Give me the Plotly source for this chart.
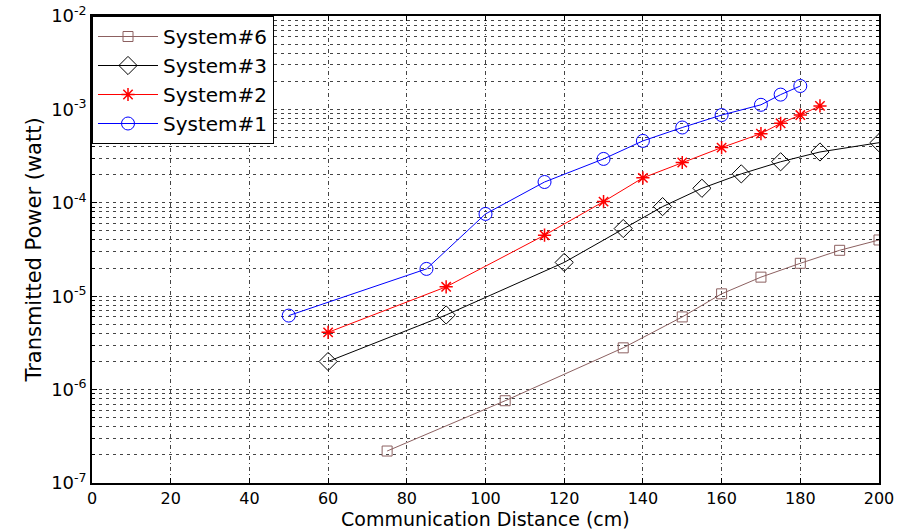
import plotly.graph_objects as go

# Data
s6_x = [75, 105, 135, 150, 160, 170, 180, 190, 200]
s6_y = [2.2e-7, 7.6e-7, 2.8e-6, 6.0e-6, 1.06e-5, 1.6e-5, 2.25e-5, 3.1e-5, 4.0e-5]

s3_x = [60, 90, 120, 135, 145, 155, 165, 175, 185, 200]
s3_y = [2.0e-6, 6.3e-6, 2.3e-5, 5.3e-5, 9.1e-5, 1.43e-4, 2.04e-4, 2.75e-4, 3.5e-4, 4.4e-4]

s2_x = [60, 90, 115, 130, 140, 150, 160, 170, 175, 180, 185]
s2_y = [4.1e-6, 1.26e-5, 4.5e-5, 1.03e-4, 1.85e-4, 2.7e-4, 3.9e-4, 5.5e-4, 7.1e-4, 8.7e-4, 1.09e-3]

s1_x = [50, 85, 100, 115, 130, 140, 150, 160, 170, 175, 180]
s1_y = [6.2e-6, 1.96e-5, 7.6e-5, 1.67e-4, 2.95e-4, 4.6e-4, 6.4e-4, 8.7e-4, 1.12e-3, 1.44e-3, 1.78e-3]

x_ticks = [0, 20, 40, 60, 80, 100, 120, 140, 160, 180, 200]
y_exps = [-7, -6, -5, -4, -3, -2]
y_ticks = [10.0 ** e for e in y_exps]
y_ticktext = ["10<sup>%d</sup>" % e for e in y_exps]
y_minor = [m * 10.0 ** e for e in y_exps[:-1] for m in range(2, 10)]

x_title = "Communication Distance (cm)"
y_title = "Transmitted Power (watt)"

font_family = "DejaVu Sans, Liberation Sans, sans-serif"

fig = go.Figure()
fig.add_trace(go.Scatter(x=s6_x, y=s6_y, mode="lines+markers", name="System#6",
                         line=dict(color="#8c6060", width=1),
                         marker=dict(symbol="square-open", size=10, color="#8c6060", line=dict(width=1))))
fig.add_trace(go.Scatter(x=s3_x, y=s3_y, mode="lines+markers", name="System#3",
                         line=dict(color="black", width=1),
                         marker=dict(symbol="diamond-open", size=14, color="black", line=dict(width=1))))
fig.add_trace(go.Scatter(x=s2_x, y=s2_y, mode="lines+markers", name="System#2",
                         line=dict(color="red", width=1),
                         marker=dict(symbol="asterisk-open", size=11, color="red", line=dict(width=1.5, color="red"))))
fig.add_trace(go.Scatter(x=s1_x, y=s1_y, mode="lines+markers", name="System#1",
                         line=dict(color="blue", width=1),
                         marker=dict(symbol="circle-open", size=13, color="blue", line=dict(width=1))))

fig.update_layout(
    width=907, height=531,
    margin=dict(l=92, r=28, t=16, b=48),
    paper_bgcolor="white", plot_bgcolor="white",
    font=dict(family=font_family, size=17, color="black"),
    showlegend=True,
    legend=dict(x=0, y=1, xanchor="left", yanchor="top",
                bgcolor="white", bordercolor="black", borderwidth=1,
                font=dict(size=20), tracegroupgap=0, itemwidth=60),
)

fig.add_annotation(text=x_title, xref="paper", yref="paper", x=0.5, y=0,
                   xanchor="center", yanchor="bottom", yshift=-48, showarrow=False,
                   borderpad=0,
                   font=dict(size=19, family=font_family, color="black"))

fig.update_xaxes(
    range=[0, 200], tickvals=x_ticks, ticktext=[str(v) for v in x_ticks],
    showline=True, linecolor="black", linewidth=1.5, mirror="ticks",
    ticks="inside", ticklen=5, tickcolor="black",
    showgrid=True, gridcolor="#444", gridwidth=1, griddash="4px,3px,1px,3px",
    zeroline=False, automargin=False,
    tickfont=dict(size=16),
)
fig.update_yaxes(
    type="log", range=[-7, -2], tickvals=y_ticks, ticktext=y_ticktext,
    showline=True, linecolor="black", linewidth=1.5, mirror="ticks",
    ticks="inside", ticklen=5, tickcolor="black",
    showgrid=True, gridcolor="#444", gridwidth=1, griddash="3px,4px",
    minor=dict(tickvals=y_minor, showgrid=True, gridcolor="#444", griddash="3px,4px",
               ticks="inside", ticklen=3, tickcolor="black"),
    zeroline=False, automargin=False,
    title=dict(text=y_title, font=dict(size=21), standoff=4),
    tickfont=dict(size=18),
)

fig.write_html("out.html")
